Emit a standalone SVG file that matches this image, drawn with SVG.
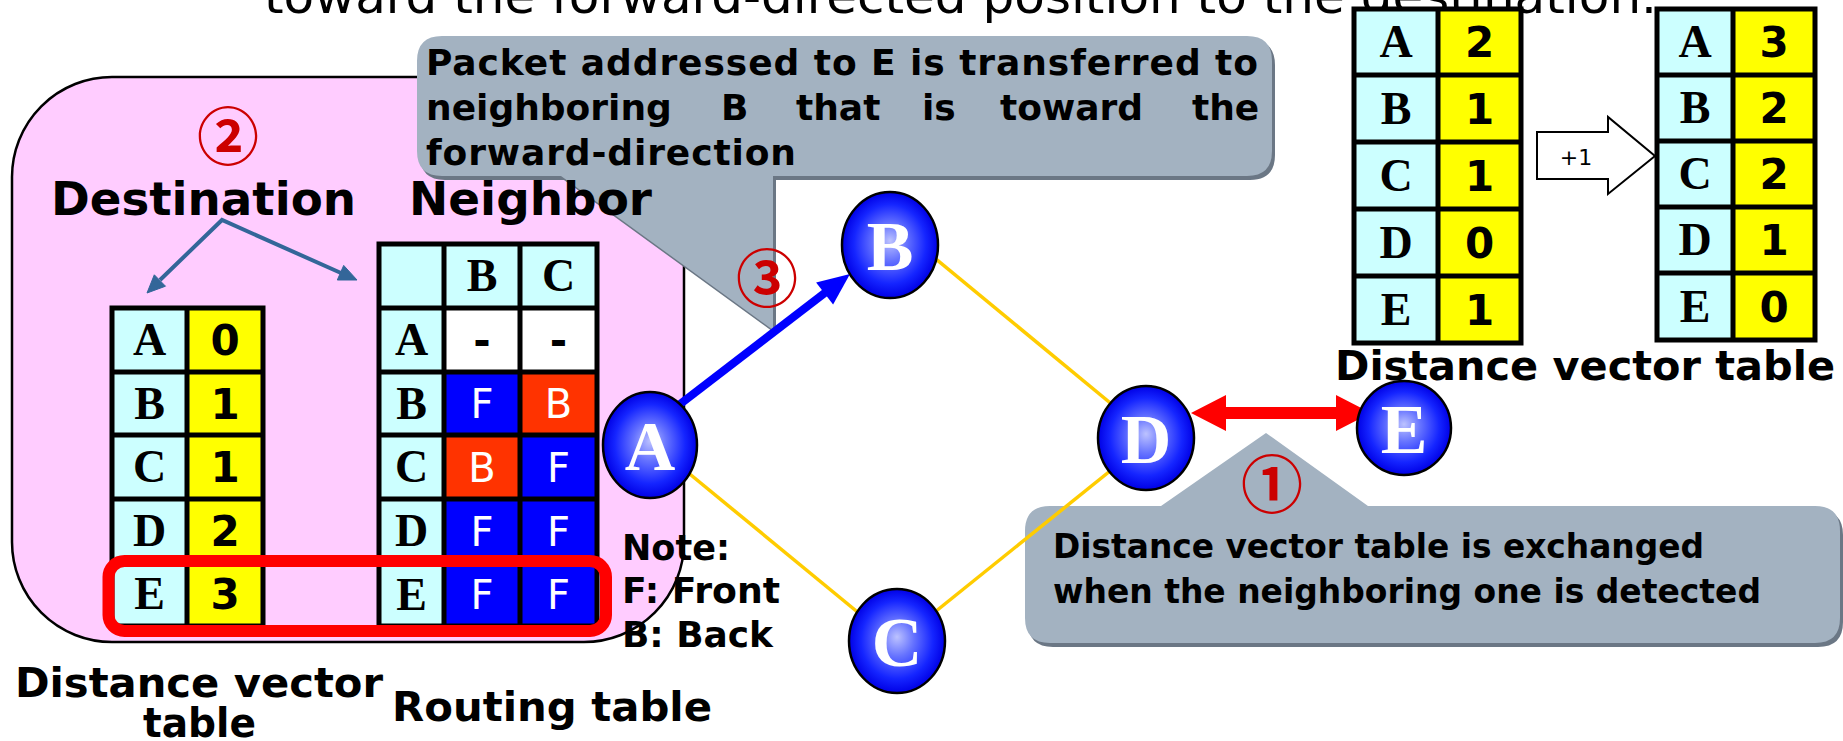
<svg xmlns="http://www.w3.org/2000/svg" width="1843" height="741" viewBox="0 0 1843 741">
<defs>
<radialGradient id="ng" cx="50%" cy="50%" r="50%" fx="50%" fy="46%">
<stop offset="0%" stop-color="#BCC2FF"/>
<stop offset="35%" stop-color="#6673FF"/>
<stop offset="75%" stop-color="#1525FF"/>
<stop offset="100%" stop-color="#0000E6"/>
</radialGradient>
<style>
.cy{fill:#CCFFFF}.yl{fill:#FFFF00}.bl{fill:#0000FF}.rd{fill:#FF3300}.wh{fill:#FFFFFF}
.grid{fill:none;stroke:#000;stroke-width:5}
.lt{font-family:"Liberation Serif",serif;font-weight:bold;font-size:46px;text-anchor:middle;fill:#000}
.num{font-family:"DejaVu Sans",sans-serif;font-weight:bold;font-size:42px;text-anchor:middle;fill:#000}
.fb{font-family:"DejaVu Sans",sans-serif;font-size:40px;text-anchor:middle;fill:#FFF}
.lab{font-family:"DejaVu Sans",sans-serif;font-weight:bold;fill:#000}
.nd{fill:url(#ng);stroke:#000;stroke-width:2.5}
.nl{font-family:"Liberation Serif",serif;font-weight:bold;font-size:70px;text-anchor:middle;fill:#FFF}
.cn{font-family:"Noto Sans CJK JP",sans-serif;font-weight:bold;font-size:62px;text-anchor:middle;fill:#CC0000}
.call{fill:#A3B2C1}.shad{fill:#6B7785}
.yel{stroke:#FFCC00;stroke-width:3.5;fill:none}
</style>
</defs>
<rect width="1843" height="741" fill="#FFFFFF"/>
<text x="264" y="13" font-family="DejaVu Sans, sans-serif" font-size="48" fill="#000" textLength="1393" lengthAdjust="spacingAndGlyphs">toward the forward-directed position to the destination.</text>

<g id="pinkPanel">
<rect x="12" y="77" width="672" height="565" rx="100" ry="100" fill="#FFCCFF" stroke="#000" stroke-width="2.5"/>
</g>

<g id="callout1">
<path class="shad" transform="translate(3,4)" d="M442,36 H1247 Q1272,36 1272,61 V151 Q1272,176 1247,176 H773 V330 L561,176 H442 Q417,176 417,151 V61 Q417,36 442,36 Z"/>
<path class="call" d="M442,36 H1247 Q1272,36 1272,61 V151 Q1272,176 1247,176 H773 V330 L561,176 H442 Q417,176 417,151 V61 Q417,36 442,36 Z"/>
<text class="lab" x="426" y="75" font-size="36" textLength="832" lengthAdjust="spacing">Packet addressed to E is transferred to</text>
<text class="lab" y="120" font-size="36"><tspan x="426">neighboring</tspan><tspan x="721">B</tspan><tspan x="796">that</tspan><tspan x="922">is</tspan><tspan x="1000">toward</tspan><tspan x="1192">the</tspan></text>
<text class="lab" x="426" y="165" font-size="36" textLength="370" lengthAdjust="spacing">forward-direction</text>
</g>

<g id="callout2">
<path class="shad" transform="translate(3,4)" d="M1050,506 H1161 L1266,433 L1368,506 H1815 Q1840,506 1840,531 V618 Q1840,643 1815,643 H1050 Q1025,643 1025,618 V531 Q1025,506 1050,506 Z"/>
<path class="call" d="M1050,506 H1161 L1266,433 L1368,506 H1815 Q1840,506 1840,531 V618 Q1840,643 1815,643 H1050 Q1025,643 1025,618 V531 Q1025,506 1050,506 Z"/>
<text class="lab" x="1053" y="558" font-size="33" textLength="651" lengthAdjust="spacingAndGlyphs">Distance vector table is exchanged</text>
<text class="lab" x="1053" y="603" font-size="33" textLength="708" lengthAdjust="spacingAndGlyphs">when the neighboring one is detected</text>
</g>

<g id="headings">
<text class="cn" x="228" y="160">②</text>
<text class="lab" x="51" y="215" font-size="46" textLength="305" lengthAdjust="spacingAndGlyphs">Destination</text>
<text class="lab" x="409" y="215" font-size="46" textLength="243" lengthAdjust="spacingAndGlyphs">Neighbor</text>
<g fill="#336699" stroke="#336699">
<polyline points="160,280 222,220 341,273" fill="none" stroke-width="4"/>
<polygon points="147,293 165.5,286.2 154.3,274.8" stroke-width="1"/>
<polygon points="357,280 337.3,280 343.7,265.4" stroke-width="1"/>
</g>
</g>

<g id="dvTableA">
<rect class="cy" x="112" y="308" width="75" height="318"/>
<rect class="yl" x="187" y="308" width="76" height="318"/>
<rect class="grid" x="112" y="308" width="151" height="318"/>
<path class="grid" d="M187,308V626M112,372H263M112,435H263M112,499H263M112,562H263"/>
<text class="lt" x="149.5" y="355">A</text><text class="num" x="225" y="355">0</text>
<text class="lt" x="149.5" y="418.5">B</text><text class="num" x="225" y="418.5">1</text>
<text class="lt" x="149.5" y="482">C</text><text class="num" x="225" y="482">1</text>
<text class="lt" x="149.5" y="545.5">D</text><text class="num" x="225" y="545.5">2</text>
<text class="lt" x="149.5" y="609">E</text><text class="num" x="225" y="609">3</text>
</g>

<g id="routingTable">
<rect class="cy" x="379" y="244" width="65" height="382"/>
<rect class="cy" x="444" y="244" width="153" height="64"/>
<rect class="wh" x="444" y="308" width="153" height="64"/>
<rect class="bl" x="444" y="372" width="76" height="63"/>
<rect class="rd" x="520" y="372" width="77" height="63"/>
<rect class="rd" x="444" y="435" width="76" height="64"/>
<rect class="bl" x="520" y="435" width="77" height="64"/>
<rect class="bl" x="444" y="499" width="153" height="127"/>
<rect class="grid" x="379" y="244" width="218" height="382"/>
<path class="grid" d="M444,244V626M520,244V626M379,308H597M379,372H597M379,435H597M379,499H597M379,563H597"/>
<text class="lt" x="482" y="291">B</text><text class="lt" x="558.5" y="291">C</text>
<text class="lt" x="411.5" y="355">A</text><text class="num" x="482" y="355">-</text><text class="num" x="558.5" y="355">-</text>
<text class="lt" x="411.5" y="418.5">B</text><text class="fb" x="482" y="418">F</text><text class="fb" x="558.5" y="418">B</text>
<text class="lt" x="411.5" y="482">C</text><text class="fb" x="482" y="481.5">B</text><text class="fb" x="558.5" y="481.5">F</text>
<text class="lt" x="411.5" y="546">D</text><text class="fb" x="482" y="545.5">F</text><text class="fb" x="558.5" y="545.5">F</text>
<text class="lt" x="411.5" y="609.5">E</text><text class="fb" x="482" y="609">F</text><text class="fb" x="558.5" y="609">F</text>
</g>

<g id="highlightRow">
<rect x="108.5" y="561" width="497.5" height="70" rx="16" ry="16" fill="none" stroke="#FF0000" stroke-width="12"/>
</g>

<g id="connectors">
<line class="yel" x1="925" y1="250" x2="1120" y2="411"/>
<line class="yel" x1="680" y1="466" x2="866" y2="619"/>
<line class="yel" x1="925" y1="620" x2="1120" y2="463"/>
<line x1="675" y1="408" x2="826" y2="292" stroke="#0000FF" stroke-width="8"/>
<polygon points="850,274 833.1,304.6 816.1,282.4" fill="#0000FF"/>
<polygon points="1191,413 1226,395 1226,407 1336,407 1336,395 1371,413 1336,431 1336,419 1226,419 1226,431" fill="#FF0000"/>
</g>

<g id="nodeA"><ellipse class="nd" cx="650" cy="445" rx="47" ry="53"/><text class="nl" x="650" y="470">A</text></g>
<g id="nodeB"><ellipse class="nd" cx="890" cy="245" rx="48" ry="53"/><text class="nl" x="890" y="270">B</text></g>
<g id="nodeC"><ellipse class="nd" cx="897" cy="641" rx="48" ry="52"/><text class="nl" x="897" y="666">C</text></g>
<g id="nodeD"><ellipse class="nd" cx="1146" cy="438" rx="48" ry="52"/><text class="nl" x="1146" y="463">D</text></g>
<g id="nodeE"><ellipse class="nd" cx="1404" cy="428" rx="47" ry="47"/><text class="nl" x="1404" y="453">E</text></g>

<g id="labels">
<text class="cn" x="767" y="302">③</text>
<text class="cn" x="1272" y="508">①</text>
<text class="lab" x="622" y="560" font-size="35" textLength="108" lengthAdjust="spacingAndGlyphs">Note:</text>
<text class="lab" x="622" y="603" font-size="35" textLength="158" lengthAdjust="spacingAndGlyphs">F: Front</text>
<text class="lab" x="622" y="647" font-size="35" textLength="151" lengthAdjust="spacingAndGlyphs">B: Back</text>
<text class="lab" x="15" y="697" font-size="40" textLength="368" lengthAdjust="spacingAndGlyphs">Distance vector</text>
<text class="lab" x="143" y="737" font-size="40" textLength="113" lengthAdjust="spacingAndGlyphs">table</text>
<text class="lab" x="392" y="721" font-size="40" textLength="320" lengthAdjust="spacingAndGlyphs">Routing table</text>
<text class="lab" x="1335" y="380" font-size="41" textLength="500" lengthAdjust="spacingAndGlyphs">Distance vector table</text>
</g>

<g id="dvTableD">
<rect class="cy" x="1354" y="9" width="84" height="334"/>
<rect class="yl" x="1438" y="9" width="83" height="334"/>
<rect class="grid" x="1354" y="9" width="167" height="334"/>
<path class="grid" d="M1438,9V343M1354,75H1521M1354,142H1521M1354,209H1521M1354,276H1521"/>
<text class="lt" x="1396" y="57">A</text><text class="num" x="1479.5" y="57">2</text>
<text class="lt" x="1396" y="123.5">B</text><text class="num" x="1479.5" y="123.5">1</text>
<text class="lt" x="1396" y="190.5">C</text><text class="num" x="1479.5" y="190.5">1</text>
<text class="lt" x="1396" y="257.5">D</text><text class="num" x="1479.5" y="257.5">0</text>
<text class="lt" x="1396" y="324.5">E</text><text class="num" x="1479.5" y="324.5">1</text>
</g>

<g id="plusOne">
<polygon points="1537,132 1608,132 1608,117 1655,156 1608,194 1608,179 1537,179" fill="#FFFFFF" stroke="#000" stroke-width="2"/>
<text x="1576" y="165" font-family="DejaVu Sans, sans-serif" font-size="22" text-anchor="middle" fill="#000">+1</text>
</g>

<g id="dvTableE">
<rect class="cy" x="1657" y="9" width="76" height="331"/>
<rect class="yl" x="1733" y="9" width="82" height="331"/>
<rect class="grid" x="1657" y="9" width="158" height="331"/>
<path class="grid" d="M1733,9V340M1657,75H1815M1657,141H1815M1657,207H1815M1657,273H1815"/>
<text class="lt" x="1695" y="57">A</text><text class="num" x="1774" y="57">3</text>
<text class="lt" x="1695" y="123">B</text><text class="num" x="1774" y="123">2</text>
<text class="lt" x="1695" y="189">C</text><text class="num" x="1774" y="189">2</text>
<text class="lt" x="1695" y="255">D</text><text class="num" x="1774" y="255">1</text>
<text class="lt" x="1695" y="321.5">E</text><text class="num" x="1774" y="321.5">0</text>
</g>
</svg>
